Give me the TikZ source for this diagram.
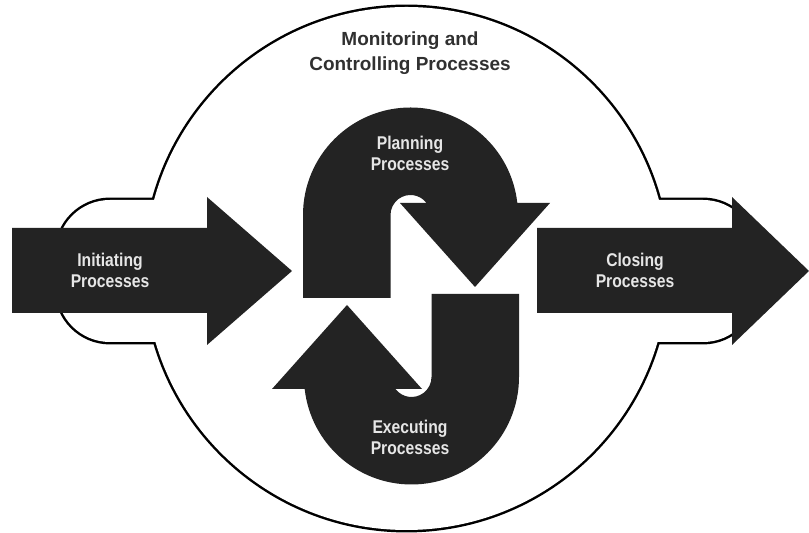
\documentclass[tikz,border=0pt]{standalone}
\usepackage{fontspec}
\setmainfont{Liberation Sans}
\newfontfamily\narrowsans[FakeStretch=0.85]{Liberation Sans}
\usepackage{tikz}

\definecolor{shapefill}{HTML}{232323}
\definecolor{labeltext}{HTML}{E6E6E6}
\definecolor{outertext}{HTML}{303030}

\begin{document}
\begin{tikzpicture}[x=0.02cm, y=0.02cm,
        block/.style={fill=shapefill},
        stagename/.style={text=labeltext, align=center,
            font=\narrowsans\bfseries\fontsize{10.5}{11.9}\selectfont},
        groupname/.style={text=outertext, align=center,
            font=\bfseries\fontsize{10.8}{14.2}\selectfont}]
    \useasboundingbox (0,0) rectangle (809,533);

    % outline drawn twice as wide, then the inner half is filled over
    \draw [line width=2.8pt] (406.5,264.5) circle[radius=261.5];
    \draw [line width=2.8pt, rounded corners=1.06cm] (57,191) rectangle (756,333);
    \fill [white] (406.5,264.5) circle[radius=261.5];
    \fill [white, rounded corners=1.06cm] (57,191) rectangle (756,333);

    \fill [block] (12,220) -- (207,220) -- (207,188) -- (292,262)
        -- (207,336) -- (207,305) -- (12,305) -- cycle;
    \fill [block] (537,220) -- (732,220) -- (732,188) -- (809,262)
        -- (732,336) -- (732,305) -- (537,305) -- cycle;

    % second turning arrow is the first one turned half round
    \foreach \ang in {0,180}
        \fill [block, rotate around={\ang:(411,237)}] (303,235) -- (303,318)
            arc[start angle=180, end angle=6.41, radius=107.5] -- (550,330)
            -- (475,246) -- (400,330) -- (426.5,330)
            arc[start angle=36.87, end angle=180, radius=20] -- (390.5,235) -- cycle;

    \node [groupname] (monitor) at (410,480) {Monitoring and\\Controlling Processes};
    \node [stagename] (plan) at (410,380) {Planning\\Processes};
    \node [stagename] (exec) at (410,96) {Executing\\Processes};
    \node [stagename] (init) at (110,263) {Initiating\\Processes};
    \node [stagename] (close) at (635,263) {Closing\\Processes};
\end{tikzpicture}
\end{document}
